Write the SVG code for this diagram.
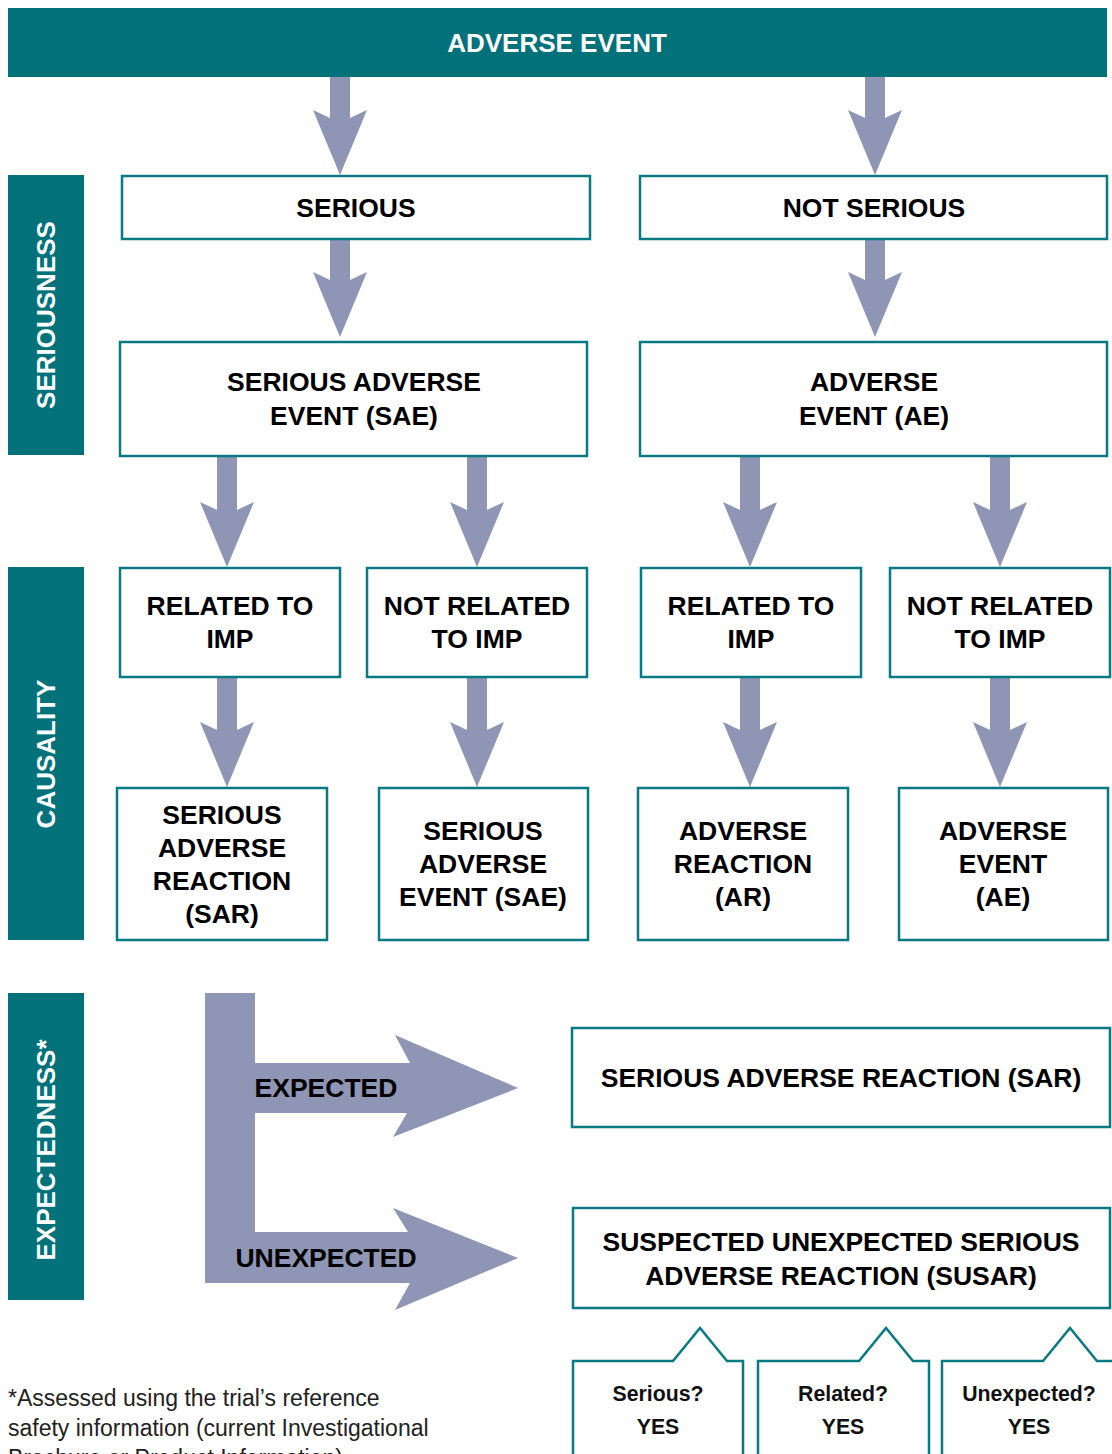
<svg xmlns="http://www.w3.org/2000/svg" width="1112" height="1454" viewBox="0 0 1112 1454">
<style>
.box{fill:#fff;stroke:#087a82;stroke-width:2.5}
.side{fill:#02717a}
.arr{fill:#8e95b5}
.t{font-family:"Liberation Sans",Arial,sans-serif;font-weight:bold;font-size:26.5px;fill:#000;text-anchor:middle;dominant-baseline:central}
.w{fill:#fff;font-size:26px}
.q{font-family:"Liberation Sans",Arial,sans-serif;font-weight:bold;font-size:21.3px;fill:#111;text-anchor:middle;dominant-baseline:central}
.fn{font-family:"Liberation Sans",Arial,sans-serif;font-size:23px;fill:#222}
</style>
<defs>
<path id="dn" d="M-10,0 H10 V41 L27,33 L0,98 L-27,33 L-10,41 Z"/>
</defs>
<rect width="1112" height="1454" fill="#fff"/>

<g id="header">
<rect x="8" y="8" width="1099" height="69" class="side"/>
<text x="557" y="43" class="t w">ADVERSE EVENT</text>
</g>

<g id="side-seriousness">
<rect x="8" y="175" width="76" height="280" class="side"/>
<text class="t w" transform="translate(46,315) rotate(-90)">SERIOUSNESS</text>
</g>
<g id="side-causality">
<rect x="8" y="567" width="76" height="373" class="side"/>
<text class="t w" transform="translate(46,754) rotate(-90)">CAUSALITY</text>
</g>
<g id="side-expectedness">
<rect x="8" y="993" width="76" height="307" class="side"/>
<text class="t w" transform="translate(46,1150) rotate(-90)">EXPECTEDNESS*</text>
</g>

<g id="connectors">
<use href="#dn" x="340" y="77" class="arr"/>
<use href="#dn" x="875" y="77" class="arr"/>
<use href="#dn" x="340" y="239" class="arr"/>
<use href="#dn" x="875" y="239" class="arr"/>
<use href="#dn" x="227" y="469" class="arr"/>
<use href="#dn" x="477" y="469" class="arr"/>
<use href="#dn" x="750" y="469" class="arr"/>
<use href="#dn" x="1000" y="469" class="arr"/>
<rect x="217" y="456" width="20" height="20" class="arr"/>
<rect x="467" y="456" width="20" height="20" class="arr"/>
<rect x="740" y="456" width="20" height="20" class="arr"/>
<rect x="990" y="456" width="20" height="20" class="arr"/>
<use href="#dn" x="227" y="689" class="arr"/>
<use href="#dn" x="477" y="689" class="arr"/>
<use href="#dn" x="750" y="689" class="arr"/>
<use href="#dn" x="1000" y="689" class="arr"/>
<rect x="217" y="677" width="20" height="20" class="arr"/>
<rect x="467" y="677" width="20" height="20" class="arr"/>
<rect x="740" y="677" width="20" height="20" class="arr"/>
<rect x="990" y="677" width="20" height="20" class="arr"/>
<path class="arr" d="M205,993 H255 V1063 H410 L395,1035 L518,1088 L393,1137 L407,1113 H255 V1232 H408 L393,1208 L518,1258 L395,1310 L410,1283 H205 Z"/>
<text x="326" y="1088" class="t">EXPECTED</text>
<text x="326" y="1258" class="t">UNEXPECTED</text>
</g>

<g id="serious">
<rect x="122" y="176" width="468" height="63" class="box"/>
<text x="356" y="208" class="t">SERIOUS</text>
</g>
<g id="not-serious">
<rect x="640" y="176" width="467" height="63" class="box"/>
<text x="874" y="208" class="t">NOT SERIOUS</text>
</g>
<g id="sae">
<rect x="120" y="342" width="467" height="114" class="box"/>
<text x="354" y="382" class="t">SERIOUS ADVERSE</text>
<text x="354" y="416" class="t">EVENT (SAE)</text>
</g>
<g id="ae">
<rect x="640" y="342" width="467" height="114" class="box"/>
<text x="874" y="382" class="t">ADVERSE</text>
<text x="874" y="416" class="t">EVENT (AE)</text>
</g>

<g id="rel1">
<rect x="120" y="568" width="220" height="109" class="box"/>
<text x="230" y="606" class="t">RELATED TO</text>
<text x="230" y="639" class="t">IMP</text>
</g>
<g id="notrel1">
<rect x="367" y="568" width="220" height="109" class="box"/>
<text x="477" y="606" class="t">NOT RELATED</text>
<text x="477" y="639" class="t">TO IMP</text>
</g>
<g id="rel2">
<rect x="641" y="568" width="220" height="109" class="box"/>
<text x="751" y="606" class="t">RELATED TO</text>
<text x="751" y="639" class="t">IMP</text>
</g>
<g id="notrel2">
<rect x="890" y="568" width="220" height="109" class="box"/>
<text x="1000" y="606" class="t">NOT RELATED</text>
<text x="1000" y="639" class="t">TO IMP</text>
</g>

<g id="res-sar">
<rect x="117" y="788" width="210" height="152" class="box"/>
<text x="222" y="815" class="t">SERIOUS</text>
<text x="222" y="848" class="t">ADVERSE</text>
<text x="222" y="881" class="t">REACTION</text>
<text x="222" y="914" class="t">(SAR)</text>
</g>
<g id="res-sae">
<rect x="379" y="788" width="209" height="152" class="box"/>
<text x="483" y="831" class="t">SERIOUS</text>
<text x="483" y="864" class="t">ADVERSE</text>
<text x="483" y="897" class="t">EVENT (SAE)</text>
</g>
<g id="res-ar">
<rect x="638" y="788" width="210" height="152" class="box"/>
<text x="743" y="831" class="t">ADVERSE</text>
<text x="743" y="864" class="t">REACTION</text>
<text x="743" y="897" class="t">(AR)</text>
</g>
<g id="res-ae">
<rect x="899" y="788" width="209" height="152" class="box"/>
<text x="1003" y="831" class="t">ADVERSE</text>
<text x="1003" y="864" class="t">EVENT</text>
<text x="1003" y="897" class="t">(AE)</text>
</g>

<g id="sar">
<rect x="572" y="1028" width="538" height="99" class="box"/>
<text x="841" y="1078" class="t">SERIOUS ADVERSE REACTION (SAR)</text>
</g>
<g id="susar">
<rect x="573" y="1208" width="537" height="100" class="box"/>
<text x="841" y="1242" class="t">SUSPECTED UNEXPECTED SERIOUS</text>
<text x="841" y="1276" class="t">ADVERSE REACTION (SUSAR)</text>
</g>

<g id="q-serious">
<path class="box" d="M573,1470 V1361 H673 L700,1328 L727,1361 H743 V1470"/>
<text x="658" y="1394" class="q">Serious?</text>
<text x="658" y="1427" class="q">YES</text>
</g>
<g id="q-related">
<path class="box" d="M758,1470 V1361 H859 L886,1328 L913,1361 H929 V1470"/>
<text x="843" y="1394" class="q">Related?</text>
<text x="843" y="1427" class="q">YES</text>
</g>
<g id="q-unexpected">
<path class="box" d="M942,1470 V1361 H1043 L1070,1328 L1097,1361 H1112"/>
<text x="1029" y="1394" class="q">Unexpected?</text>
<text x="1029" y="1427" class="q">YES</text>
</g>

<g id="footnote">
<text x="8" y="1406" class="fn">*Assessed using the trial’s reference</text>
<text x="8" y="1436" class="fn">safety information (current Investigational</text>
<text x="8" y="1466" class="fn">Brochure or Product Information)</text>
</g>
</svg>
